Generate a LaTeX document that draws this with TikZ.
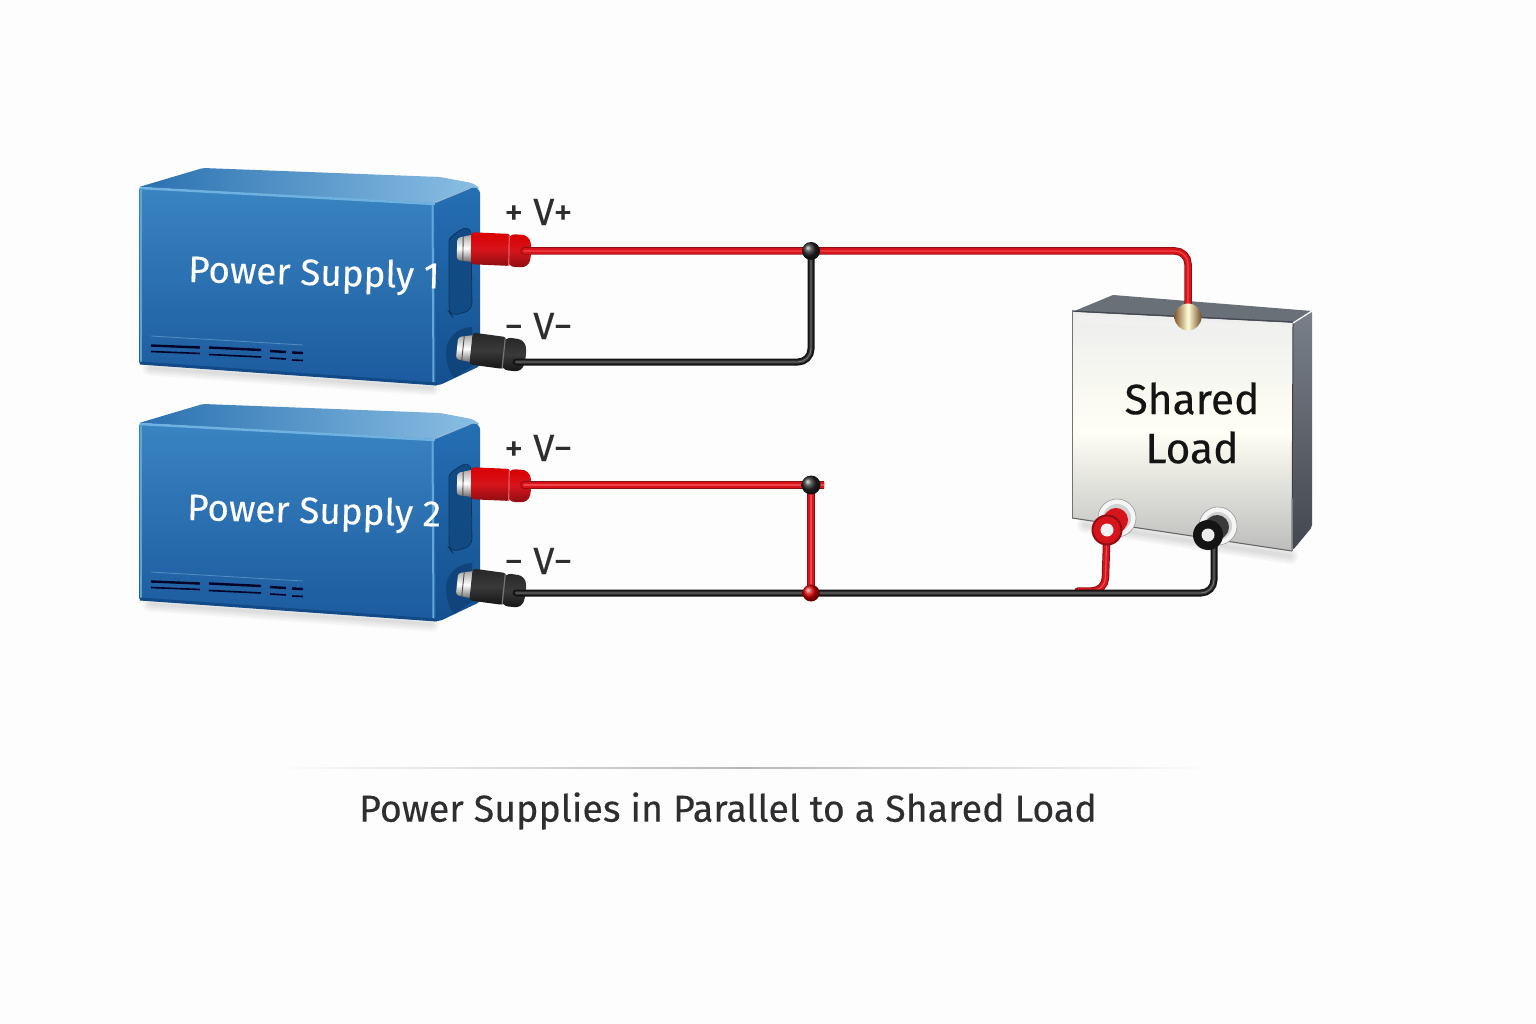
\documentclass[tikz,border=0pt]{standalone}
\usepackage{fontspec}
\setmainfont{Fira Sans}[FakeBold=0.25]
\definecolor{bgc}{HTML}{FDFDFD}
\definecolor{txt}{HTML}{2E2E30}
\definecolor{redA}{HTML}{8E0E12}
\definecolor{redB}{HTML}{D7141C}
\definecolor{redC}{HTML}{F0474A}
\definecolor{blkA}{HTML}{141414}
\definecolor{blkB}{HTML}{3A3A3A}
\definecolor{blkC}{HTML}{777777}
\definecolor{psT1}{HTML}{2A71B0}
\definecolor{psT2}{HTML}{8BBFE4}
\definecolor{psS1}{HTML}{256FB3}
\definecolor{psS2}{HTML}{14508F}
\definecolor{psF1}{HTML}{3A84C2}
\definecolor{psF2}{HTML}{1B5A9E}
\definecolor{psH}{HTML}{6FB2E0}
\definecolor{psE}{HTML}{124A88}
\definecolor{ldT}{HTML}{6A7078}
\definecolor{ldS}{HTML}{7A808A}
\definecolor{ldD}{HTML}{43474F}
\tikzset{
  rwa/.style={draw=redA,line width=7.5pt,rounded corners=13pt,line cap=round},
  rwb/.style={draw=redB,line width=5.6pt,rounded corners=13pt,line cap=round},
  rwc/.style={draw=redC,line width=1.2pt,rounded corners=13pt,line cap=round},
  bwa/.style={draw=blkA,line width=7pt,rounded corners=13pt,line cap=round},
  bwb/.style={draw=blkB,line width=3.4pt,rounded corners=13pt,line cap=round},
  bwc/.style={draw=blkC,line width=.9pt,rounded corners=13pt,line cap=round},
  lab/.style={font=\fontsize{38}{40}\selectfont,text=txt,inner sep=0pt,anchor=west},
  psutext/.style={font=\fontsize{36.8}{40}\selectfont,text=white,inner sep=0pt,rotate=-1.5,anchor=west},
  loadtext/.style={font=\fontsize{42.5}{49}\selectfont,text=blkA,inner sep=0pt,align=center},
  dotk/.style={circle,inner sep=0pt,minimum size=18pt,ball color=black!85},
  dotr/.style={circle,inner sep=0pt,minimum size=18pt,ball color=red!85!black},
  vent/.style={draw=black!85!blue,line width=2.4pt},
  ventb/.style={draw=black!85!blue,line width=1.6pt},
}
\newcommand\redwire[1]{\draw[rwa]#1;\draw[rwb]#1;\draw[rwc]#1;}
\newcommand\blkwire[1]{\draw[bwa]#1;\draw[bwb]#1;\draw[bwc]#1;}
% PSU body
\newcommand\psubody[1]{%
 \begin{scope}[shift={(0,#1)}]
  \foreach \w in {3,7,11,15}{\draw[black,opacity=.03,line width=\w pt,line cap=round] (150,368) -- (432,388);}
  \shade[left color=psT1,right color=psT2,rounded corners=2pt]
     (139,187) -- (203,168) -- (440,177) -- (472,183) -- (480,188) -- (434,204) -- cycle;
  \shade[top color=psS1,bottom color=psS2,rounded corners=3pt]
     (434,203) -- (474,187) -- (480,190) -- (480,366) -- (440,385) -- (430,385) -- cycle;
  \shade[shading angle=20,top color=psF1,bottom color=psF2,rounded corners=2pt]
     (139,188) -- (434,203) -- (436,385) -- (139,364) -- cycle;
  \draw[psH,line width=2.4pt] (139.5,188) -- (434,204);
  \draw[psH!70!psF1,line width=2pt] (140.5,190) -- (140.5,362);
  \draw[psH!75!psF1,line width=2pt] (432.5,205) -- (433.5,383);
  \draw[psE,line width=3pt,rounded corners=2pt] (140,363) -- (437,384);
  \draw[psS1!50!white,line width=1.5pt] (436,202) -- (470,188);
  \draw[psE!70!black,line width=.8pt,fill=psS2!92!black,rounded corners=7pt]
     (449,248) .. controls (449,236) and (462,229) .. (471,227) -- (472,310) -- (452,316) -- (449,312) -- cycle;
  \fill[psS2!85!black] (446,352) .. controls (446,338) and (458,327) .. (472,327) -- (472,366) -- (454,378) .. controls (449,372) and (446,362) .. (446,352) -- cycle;
  % vents
  \draw[vent] (151,345.5) -- (200,347.5); \draw[ventb] (151,351.5) -- (200,353.5);
  \draw[vent] (209,347.5) -- (261,350); \draw[ventb] (209,354.5) -- (261,357);
  \draw[vent] (270,351) -- (286,352); \draw[vent] (292,352.5) -- (303,353);
  \draw[ventb] (270,358) -- (286,359); \draw[ventb] (292,360) -- (303,360.5);
  \draw[psF1!70!white,line width=.8pt,opacity=.6] (151,336) -- (303,345);
 \end{scope}}
% plug: #1 shift y, #2 tilt, #3 light, #4 mid, #5 dark, #6 end x
\newcommand\plug[6]{%
 \begin{scope}[shift={(0,#1)},rotate around={#2:(457,0)}]
  \shade[top color=gray!70,bottom color=gray!80!black,middle color=white,rounded corners=3pt] (457,-11) -- (474,-15) -- (474,13) -- (457,11) -- cycle;
  \draw[gray!60!black,line width=.9pt] (463,-13) -- (463,12);
  \shade[top color=#4,bottom color=#5,middle color=#3,rounded corners=3pt] (471,-17) -- (#6-22,-16) -- (#6-22,16) -- (471,15) -- cycle;
  \shade[top color=#4,bottom color=#5,middle color=#3,rounded corners=7pt] (#6-24,-16) -- (#6-3,-15) -- (#6,0) -- (#6-3,17) -- (#6-24,17) -- cycle;
  \draw[#3!70!white,line width=1.2pt] (#6-23,-15) -- (#6-23,16);
 \end{scope}}
\begin{document}
\begin{tikzpicture}[x=1pt,y=-1pt]
\useasboundingbox (0,0) rectangle (1536,1024);
\fill[bgc] (0,0) rectangle (1536,1024);

% named points
\coordinate (p1) at (524,251);
\coordinate (n1) at (516,362);
\coordinate (p2) at (524,485);
\coordinate (n2) at (516,593);
\coordinate (j1) at (811,251);
\coordinate (j1a) at (811,362);
\coordinate (j2) at (811,485);
\coordinate (j2t) at (822,485);
\coordinate (j3) at (811,593);
\coordinate (cor) at (1188,251);
\coordinate (ltop) at (1188,317);
\coordinate (lr) at (1107,530);
\coordinate (lb) at (1214,537);
\coordinate (lrb) at (1105,591);
\coordinate (lbb) at (1214,593);
\coordinate (lrj) at (1078,591);

\psubody{0}
\psubody{236}

% load
\foreach \w in {4,8,12,16}{\draw[black,opacity=.03,line width=\w pt,line cap=round] (1085,525) -- (1290,556);}
\fill[ldT] (1113,295) -- (1312,311) -- (1293,323) -- (1072,312) -- cycle;
\shade[top color=ldS,bottom color=ldD,rounded corners=2pt] (1293,323) -- (1312,311) -- (1312,527) -- (1293,550) -- cycle;
\shade[top color=black!7,bottom color=black!26,middle color=white!96!yellow,rounded corners=3pt] (1072,312) -- (1293,323) -- (1292,551) -- (1072,518) -- cycle;
\draw[white!90!gray,line width=7pt,opacity=.7] (1076,319) -- (1289,330);
\draw[black!55,line width=1pt,rounded corners=3pt] (1072,518) -- (1072,312);
\draw[black!60,line width=1.1pt,rounded corners=2pt] (1072,518) -- (1292,551);
\draw[ldD,line width=1.2pt] (1072,311) -- (1293,322);
\draw[white,line width=1.2pt] (1293,323) -- (1312,311);
\draw[black!75,line width=1pt] (1293,323) -- (1292,551);

% load terminal washers
\fill[white!92!gray,draw=black!40,line width=.6pt] (1117,518) circle (19);
\fill[black!18] (1117,518) circle (14);
\fill[white!92!gray,draw=black!40,line width=.6pt] (1218,526) circle (19);
\fill[black!18] (1218,526) circle (14);

% plugs
\plug{249}{-1}{redB}{red!85!black}{redA}{532}
\plug{348}{-6}{blkB}{black!85}{blkA}{527}
\plug{484}{-1}{redB}{red!85!black}{redA}{532}
\plug{584}{-6}{blkB}{black!85}{blkA}{527}

% wires
\redwire{(p1) -- (j1) -- (cor) -- (ltop)}
\blkwire{(n1) -- (j1a) -- (j1)}
\redwire{(p2) -- (j2) -- (j2t)}
\redwire{(lr) -- (lrb) -- (lrj)}
\blkwire{(n2) -- (j3) -- (lbb) -- (lb)}
\redwire{(j2) -- (j3)}

% junctions
\node[dotk,minimum size=18pt] (dj1) at (j1) {};
\node[dotk,minimum size=19pt] (dj2) at (j2) {};
\node[dotr,minimum size=17pt] (dj3) at (j3) {};

% load terminals
\node[circle,inner sep=0pt,minimum size=27pt,left color=brown!70!black,right color=brown!60!black,middle color=white!85!yellow] (tb) at (ltop) {};
\draw[redB,line width=24pt,line cap=round] (1107,530) -- (1116,520);
\node[circle,draw=redA,line width=2pt,fill=redB,minimum size=29pt,inner sep=0pt] (tr) at (1107,530) {};
\node[circle,fill=white!90!gray,minimum size=13pt,inner sep=0pt] (trh) at (1107,530) {};
\draw[blkB,line width=24pt,line cap=round] (1208,535) -- (1217,527);
\node[circle,fill=blkA,minimum size=30pt,inner sep=0pt] (tk) at (1208,535) {};
\node[circle,fill=white!85!gray,minimum size=13pt,inner sep=0pt] (tkh) at (1208,535) {};

% labels
\node[psutext] (t1) at (188,272) {Power Supply 1};
\node[psutext] (t2) at (187,510) {Power Supply 2};
\node[lab] (l1) at (504,212) {+ V+};
\node[lab] (l2) at (504,326) {− V−};
\node[lab] (l3) at (504,448) {+ V−};
\node[lab] (l4) at (504,561) {− V−};
\node[loadtext] (tl) at (1192,423) {Shared\\Load};

% separator
\shade[left color=bgc,right color=black!28] (272,767.5) rectangle (743,768.5);
\shade[right color=bgc,left color=black!28] (743,767.5) rectangle (1215,768.5);
\node[font=\fontsize{37.6}{40}\selectfont,text=txt,inner sep=0pt] (title) at (728,811) {Power Supplies in Parallel to a Shared Load};
\end{tikzpicture}
\end{document}
